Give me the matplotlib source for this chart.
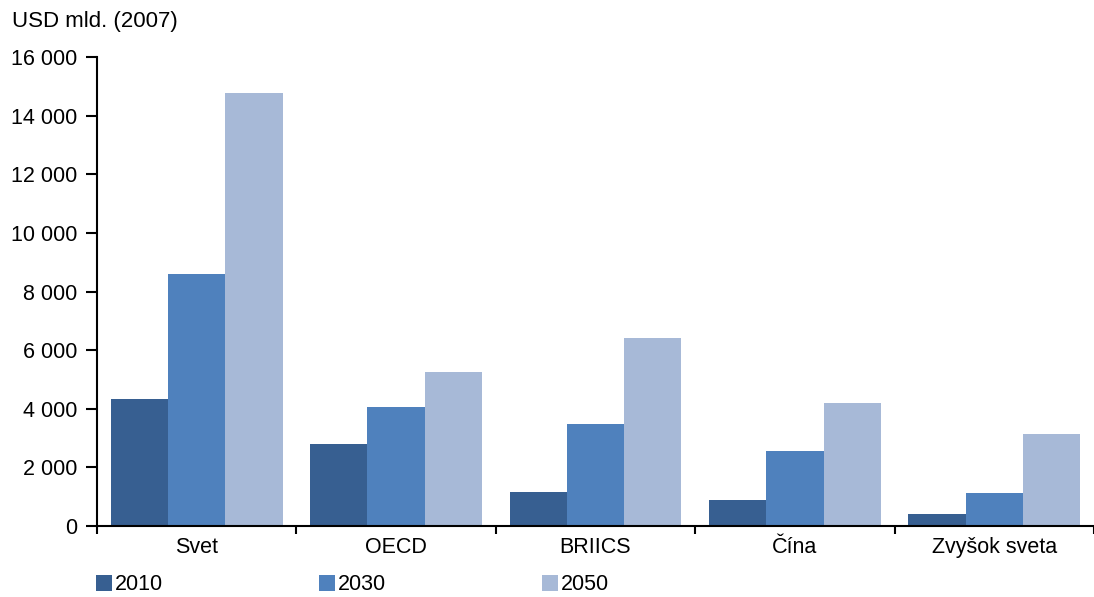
import matplotlib
matplotlib.use("Agg")
import matplotlib.pyplot as plt
import numpy as np
from matplotlib.ticker import FuncFormatter, MultipleLocator

# ── Data ──────────────────────────────────────────────────────────────────────
categories = ["Svet", "OECD", "BRIICS", "Čína", "Zvyšok sveta"]
years = ["2010", "2030", "2050"]
vals_2010 = [4330, 2800, 1160, 890, 400]
vals_2030 = [8600, 4050, 3480, 2560, 1120]
vals_2050 = [14780, 5250, 6400, 4200, 3140]

colors = ["#375F91", "#4F81BD", "#A7B9D7"]

plt.rcParams["font.family"] = ["Liberation Sans", "DejaVu Sans"]
FS = 15.5

fig = plt.figure(figsize=(10.94, 5.97), dpi=100)
ax = fig.add_axes([97 / 1094, 1 - 526 / 597, 1 - 97 / 1094, (526 - 57) / 597])

x = np.arange(len(categories))
bw = 0.287
series = [vals_2010, vals_2030, vals_2050]
for i, (vals, col, yr) in enumerate(zip(series, colors, years)):
    ax.bar(x + (i - 1) * bw, vals, width=bw, color=col, label=yr, linewidth=0)

ax.set_xlim(-0.5, len(categories) - 0.5)
ax.set_ylim(0, 16000)
ax.yaxis.set_major_locator(MultipleLocator(2000))
ax.yaxis.set_major_formatter(FuncFormatter(lambda v, _: f"{int(v):,}".replace(",", " ")))

ax.set_xticks(x)
ax.set_xticklabels(categories, fontsize=FS)
ax.set_xticks(np.arange(-0.5, len(categories)), minor=True)
ax.tick_params(axis="x", which="major", length=0, pad=8)
ax.tick_params(axis="x", which="minor", length=6, width=1.5, direction="out")
ax.tick_params(axis="y", which="major", length=8, width=1.5, labelsize=FS, pad=6)

for s in ["top", "right"]:
    ax.spines[s].set_visible(False)
for s in ["left", "bottom"]:
    ax.spines[s].set_linewidth(1.5)

fig.text(12 / 1094, 1 - 22 / 597, "USD mld. (2007)", fontsize=16, va="center", ha="left")

# legend: square patches, wide column gaps (sizes in px converted to font units)
lfs = 15.5
px = lfs * 100 / 72
fig.legend(loc="center left", bbox_to_anchor=(96 / 1094, 1 - 585 / 597), ncol=3,
           frameon=False, fontsize=lfs, handlelength=16 / px, handleheight=16 / px,
           handletextpad=3 / px, columnspacing=156 / px, borderaxespad=0,
           borderpad=0)

fig.savefig("out.png", dpi=100)
